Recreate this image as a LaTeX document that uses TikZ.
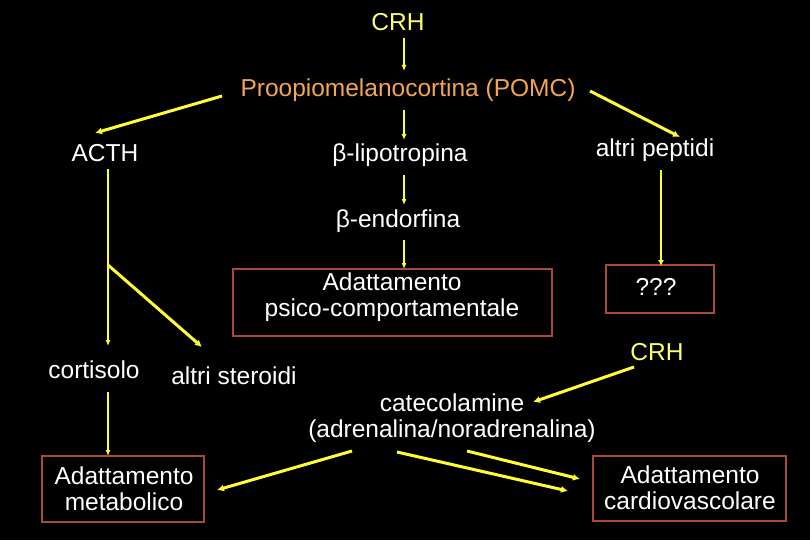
\documentclass[tikz,border=0pt]{standalone}
\usepackage{fontspec}
\setmainfont{Liberation Sans}
\usetikzlibrary{arrows.meta}
\definecolor{arr}{HTML}{FFFF33}
\definecolor{crh}{HTML}{FFFF66}
\definecolor{pomc}{HTML}{F2A650}
\definecolor{boxc}{HTML}{A84A36}
\tikzset{
  txt/.style={text=white,font=\fontsize{24.5}{26}\selectfont,inner sep=0pt,align=center},
  bx/.style={draw=boxc,line width=2pt},
  thin arrow/.style={draw=arr,line width=1.4pt,-{Latex[length=6pt,width=5pt]}},
  mid arrow/.style={draw=arr,line width=2.2pt,-{Latex[length=6pt,width=6pt]}},
  thick arrow/.style={draw=arr,line width=3pt,-{Latex[length=7pt,width=7pt]}}
}
\begin{document}
\begin{tikzpicture}[x=1pt,y=-1pt]
\fill[black] (0,0) rectangle (810,540);
\useasboundingbox (0,0) rectangle (810,540);
% texts
\node[txt,text=crh] (crh1) at (398,22) {CRH};
\node[txt,text=pomc] (pomc) at (408,90) {Proopiomelanocortina (POMC)};
\node[txt] (acth) at (105,153) {ACTH};
\node[txt] (blip) at (400,155) {β-lipotropina};
\node[txt] (altp) at (655,150) {altri peptidi};
\node[txt] (bend) at (398,221) {β-endorfina};
\node[txt] (cort) at (94,370) {cortisolo};
\node[txt] (alts) at (234,376) {altri steroidi};
\node[txt,text=crh] (crh2) at (657,352) {CRH};
\node[txt] (cate) at (452,418) {catecolamine\\(adrenalina/noradrenalina)};
% boxes
\draw[bx] (233,269) rectangle (552,336);
\node[txt] (psico) at (392,297) {Adattamento\\psico-comportamentale};
\draw[bx] (606,265) rectangle (714,313);
\node[txt] (qqq) at (656,287) {???};
\draw[bx] (42,456) rectangle (204,522);
\node[txt] (meta) at (124,489) {Adattamento\\metabolico};
\draw[bx] (593,456) rectangle (786,521);
\node[txt] (cardio) at (690,488) {Adattamento\\cardiovascolare};
% coordinates
\coordinate (a1) at (404,38);  \coordinate (a2) at (404,71);
\coordinate (b1) at (404,110); \coordinate (b2) at (404,140);
\coordinate (c1) at (404,175); \coordinate (c2) at (404,205);
\coordinate (d1) at (404,240); \coordinate (d2) at (404,269);
\coordinate (e1) at (222,96);  \coordinate (e2) at (95,133);
\coordinate (f1) at (590,91);  \coordinate (f2) at (680,137);
\coordinate (g1) at (108,169); \coordinate (g2) at (108,346);
\coordinate (gb) at (108,265); \coordinate (h2) at (202,347);
\coordinate (i1) at (108,392); \coordinate (i2) at (108,456);
\coordinate (j1) at (661,170); \coordinate (j2) at (661,266);
\coordinate (k1) at (634,367); \coordinate (k2) at (533,402);
\coordinate (l1) at (352,451); \coordinate (l2) at (217,490);
\coordinate (m1) at (397,452); \coordinate (m2) at (568,491);
\coordinate (n1) at (467,451); \coordinate (n2) at (580,479);
% arrows
\draw[thin arrow] (a1) -- (a2);
\draw[thin arrow] (b1) -- (b2);
\draw[thin arrow] (c1) -- (c2);
\draw[thin arrow] (d1) -- (d2);
\draw[thick arrow] (e1) -- (e2);
\draw[thick arrow] (f1) -- (f2);
\draw[thin arrow] (g1) -- (g2);
\draw[thick arrow] (gb) -- (h2);
\draw[thin arrow] (i1) -- (i2);
\draw[mid arrow] (j1) -- (j2);
\draw[thick arrow] (k1) -- (k2);
\draw[thick arrow] (l1) -- (l2);
\draw[thick arrow] (m1) -- (m2);
\draw[thick arrow] (n1) -- (n2);
\end{tikzpicture}
\end{document}
